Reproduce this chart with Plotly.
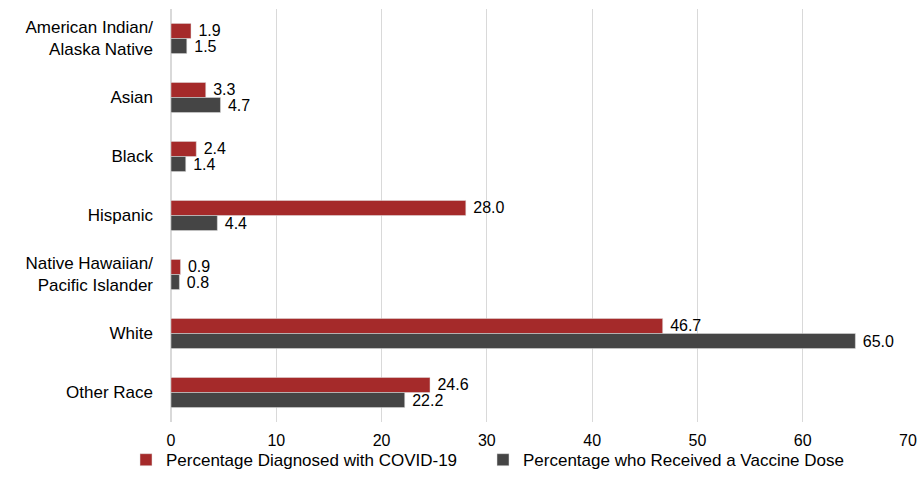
import plotly.graph_objects as go

categories = ["American Indian/<br>Alaska Native", "Asian", "Black", "Hispanic",
              "Native Hawaiian/<br>Pacific Islander", "White", "Other Race"]
diagnosed = [1.9, 3.3, 2.4, 28.0, 0.9, 46.7, 24.6]
vaccinated = [1.5, 4.7, 1.4, 4.4, 0.8, 65.0, 22.2]
series_names = ["Percentage Diagnosed with COVID-19", "Percentage who Received a Vaccine Dose"]
x_ticks = [0, 10, 20, 30, 40, 50, 60, 70]

font = "Liberation Sans, Arial, sans-serif"
fig = go.Figure()
for vals, name, color, leg in [(diagnosed, series_names[0], "#A52A2A", "legend"),
                               (vaccinated, series_names[1], "#454545", "legend2")]:
    fig.add_trace(go.Bar(
        y=categories, x=vals, name=name, orientation="h", legend=leg,
        marker=dict(color=color, line=dict(color="#e0e0e0", width=0.5)),
        texttemplate="\u00a0%{x:.1f}", textposition="outside",
        textfont=dict(size=16, color="#000000", family=font),
        constraintext="none", cliponaxis=False, hoverinfo="skip",
    ))

legend_common = dict(orientation="h", xref="container", yref="container",
                     xanchor="left", y=0.076, yanchor="middle",
                     font=dict(size=17), itemwidth=30, bgcolor="rgba(0,0,0,0)")

fig.update_layout(
    width=921, height=498,
    margin=dict(l=171, r=13, t=9, b=76, autoexpand=False),
    barmode="group", bargap=0.49, bargroupgap=0,
    plot_bgcolor="white", paper_bgcolor="white",
    font=dict(family=font, size=17, color="#000000"),
    showlegend=True,
    legend=dict(x=126 / 921, **legend_common),
    legend2=dict(x=483 / 921, **legend_common),
    xaxis=dict(range=[0, 70], tickvals=x_ticks, showgrid=True, gridcolor="#d9d9d9",
               gridwidth=1, zeroline=True, zerolinecolor="#d9d9d9",
               tickfont=dict(size=16), ticks="", ticklabelstandoff=7, automargin=False),
    yaxis=dict(autorange="reversed", tickfont=dict(size=17), ticks="",
               ticklabelstandoff=17, showline=False, automargin=False),
)
fig.write_html("out.html", config={"displayModeBar": False},
               post_script="document.body.style.margin='0';")
